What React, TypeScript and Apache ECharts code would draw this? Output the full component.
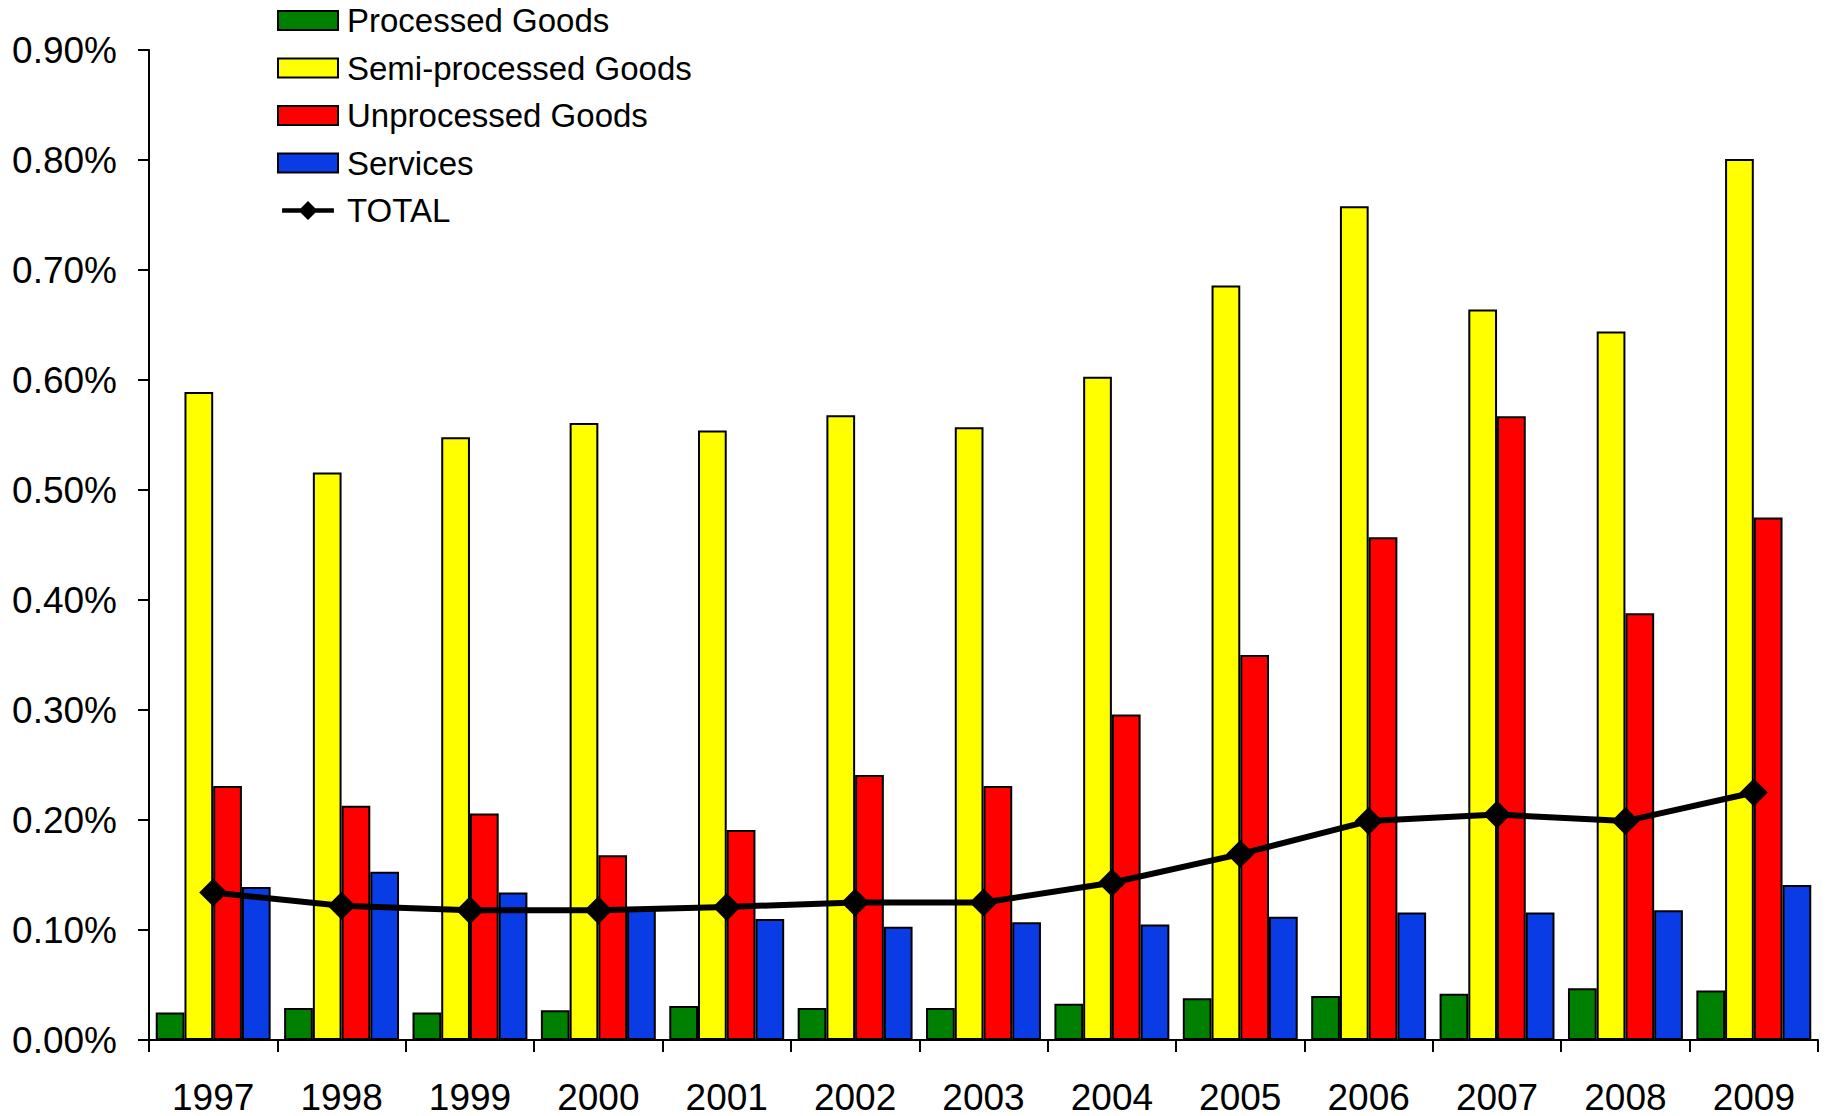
import React, { useEffect, useRef } from "react";
import * as echarts from "echarts";

const years = ["1997", "1998", "1999", "2000", "2001", "2002", "2003", "2004", "2005", "2006", "2007", "2008", "2009"];

// shares in percent
const processedGoods = [0.025, 0.029, 0.025, 0.027, 0.031, 0.029, 0.029, 0.033, 0.038, 0.040, 0.042, 0.047, 0.045];
const semiProcessedGoods = [0.589, 0.516, 0.548, 0.561, 0.554, 0.568, 0.557, 0.603, 0.686, 0.758, 0.664, 0.644, 0.801];
const unprocessedGoods = [0.231, 0.213, 0.206, 0.168, 0.191, 0.241, 0.231, 0.296, 0.350, 0.457, 0.567, 0.388, 0.475];
const services = [0.139, 0.153, 0.134, 0.121, 0.110, 0.103, 0.107, 0.105, 0.112, 0.116, 0.116, 0.118, 0.141];
const total = [0.134, 0.122, 0.118, 0.118, 0.121, 0.125, 0.125, 0.143, 0.169, 0.199, 0.205, 0.199, 0.225];

const FONT = "'Liberation Sans', Arial, sans-serif";

// legend icon for the total: thick line with a diamond in the middle
const TOTAL_ICON = "path://M0,8.5 L60,8.5 L60,13.5 L0,13.5 Z M30,0 L41,11 L30,22 L19,11 Z";

const barStyle = (color: string) => ({
  color,
  borderColor: "#000",
  borderWidth: 2,
});

export default function App() {
  const ref = useRef<HTMLDivElement>(null);

  useEffect(() => {
    if (!ref.current) return;
    const chart = echarts.init(ref.current, null, { renderer: "svg" });
    chart.setOption({
      animation: false,
      backgroundColor: "#fff",
      textStyle: { fontFamily: FONT, color: "#000" },
      grid: { left: 149, right: 9, top: 50, bottom: 76, containLabel: false },
      legend: {
        orient: "vertical",
        left: 277,
        top: 4,
        padding: 0,
        itemWidth: 60,
        itemHeight: 19,
        itemGap: 14.5,
        icon: "rect",
        textStyle: { fontFamily: FONT, fontSize: 33, color: "#000", padding: [0, 0, 0, 4] },
        data: [
          { name: "Processed Goods" },
          { name: "Semi-processed Goods" },
          { name: "Unprocessed Goods" },
          { name: "Services" },
          { name: "TOTAL", icon: TOTAL_ICON, itemStyle: { color: "#000", borderWidth: 0 } },
        ],
      },
      xAxis: {
        type: "category",
        data: years,
        boundaryGap: true,
        axisLine: { lineStyle: { color: "#000", width: 2 } },
        axisTick: { show: true, inside: false, length: 12, alignWithLabel: false, lineStyle: { color: "#000", width: 2 } },
        axisLabel: { fontFamily: FONT, fontSize: 37, lineHeight: 30, color: "#000", margin: 42, interval: 0 },
        splitLine: { show: false },
      },
      yAxis: {
        type: "value",
        min: 0,
        max: 0.9,
        interval: 0.1,
        axisLine: { show: true, lineStyle: { color: "#000", width: 2 } },
        axisTick: { show: true, inside: false, length: 11, lineStyle: { color: "#000", width: 2 } },
        axisLabel: {
          fontFamily: FONT,
          fontSize: 37,
          color: "#000",
          margin: 32,
          formatter: (v: number) => v.toFixed(2) + "%",
        },
        splitLine: { show: false },
      },
      series: [
        {
          name: "Processed Goods",
          type: "bar",
          data: processedGoods,
          barGap: "0%",
          barCategoryGap: "10.5%",
          itemStyle: barStyle("#008000"),
        },
        {
          name: "Semi-processed Goods",
          type: "bar",
          data: semiProcessedGoods,
          itemStyle: barStyle("#FFFF00"),
        },
        {
          name: "Unprocessed Goods",
          type: "bar",
          data: unprocessedGoods,
          itemStyle: barStyle("#FF0000"),
        },
        {
          name: "Services",
          type: "bar",
          data: services,
          itemStyle: barStyle("#0A3CE6"),
        },
        {
          name: "TOTAL",
          type: "line",
          data: total,
          symbol: "diamond",
          symbolSize: 28,
          z: 5,
          lineStyle: { color: "#000", width: 6 },
          itemStyle: { color: "#000" },
        },
      ],
    });
    return () => chart.dispose();
  }, []);

  return (
    <div
      ref={ref}
      style={{ position: "absolute", left: 0, top: 0, width: 1827, height: 1116 }}
    />
  );
}
